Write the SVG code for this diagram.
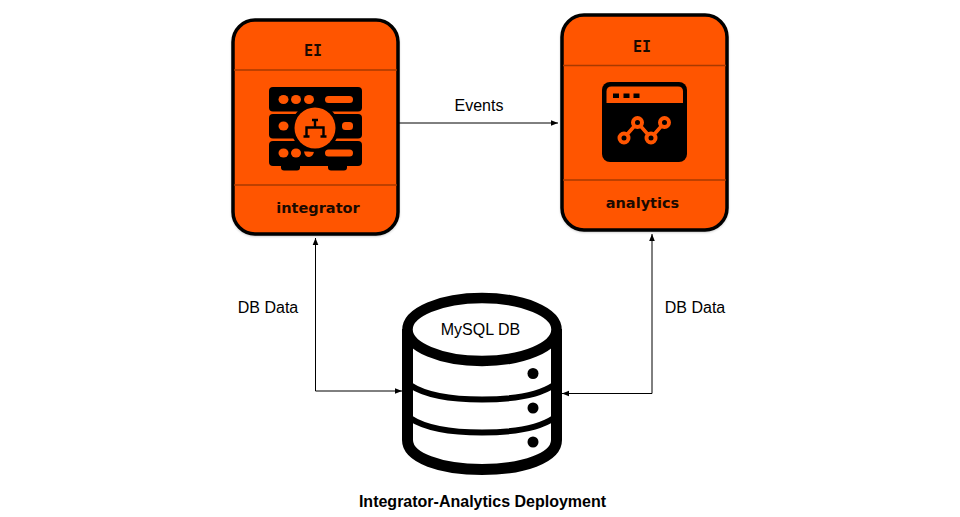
<svg xmlns="http://www.w3.org/2000/svg" width="960" height="517" viewBox="0 0 960 517">
<style>
.card{fill:#ff5500;stroke:#000;stroke-width:3.5}
.div{stroke:#a83a00;stroke-width:1.3;fill:none}
.ct{font-family:"DejaVu Sans",sans-serif;font-weight:700;fill:#1a0a00;text-anchor:middle}
.ei{font-family:"DejaVu Sans Mono",monospace;font-weight:700;fill:#1a0a00;text-anchor:middle;font-size:15px}
.lb{font-family:"Liberation Sans",Arial,sans-serif;font-size:16px;fill:#000;text-anchor:middle}
.cn{fill:none;stroke:#000;stroke-width:1}
.o{fill:#ff5500}
.ol{fill:none;stroke:#ff5500;stroke-width:3.5}
.pt{fill:#000;stroke:#ff5500;stroke-width:4}
.band{fill:none;stroke:#000;stroke-linecap:butt}
</style>
<defs>
<marker id="ah" viewBox="0 0 8 8" refX="7" refY="4" markerWidth="8" markerHeight="8" markerUnits="userSpaceOnUse" orient="auto"><path d="M0 1.2L7 4L0 6.8Z" fill="#000"/></marker>
<marker id="as" viewBox="0 0 8 8" refX="7" refY="4" markerWidth="8" markerHeight="8" markerUnits="userSpaceOnUse" orient="auto-start-reverse"><path d="M0 1.2L7 4L0 6.8Z" fill="#000"/></marker>
<filter id="sh" x="-10%" y="-10%" width="120%" height="120%"><feGaussianBlur stdDeviation="1.5"/></filter>
</defs>
<g id="integrator">
<rect x="232" y="21" width="167" height="215" rx="23" fill="#000" opacity=".3" filter="url(#sh)"/>
<rect class="card" x="233" y="20" width="165" height="214" rx="22"/>
<path class="div" d="M234 70H397M234 185H397"/>
<text class="ei" x="313" y="56">EI</text>
<text class="ct" x="318" y="213" font-size="14.500">integrator</text>
<rect x="269" y="87" width="93" height="24.500" rx="4"/>
<rect x="269" y="114" width="93" height="24.500" rx="4"/>
<rect x="269" y="141" width="93" height="25" rx="4"/>
<rect x="281" y="162" width="19" height="8.500" rx="3"/>
<rect x="328" y="162" width="19" height="8.500" rx="3"/>
<ellipse class="o" cx="283.500" cy="99.500" rx="5" ry="4.500"/><ellipse class="o" cx="296" cy="99.500" rx="5" ry="4.500"/><ellipse class="o" cx="309" cy="99.500" rx="5" ry="4.500"/>
<rect class="o" x="325" y="96" width="28" height="7" rx="3.500"/>
<ellipse class="o" cx="283.500" cy="126" rx="5" ry="4.500"/>
<rect class="o" x="342" y="122" width="11" height="8" rx="3.500"/>
<ellipse class="o" cx="283.500" cy="153" rx="5" ry="4.500"/><ellipse class="o" cx="296" cy="153" rx="5" ry="4.500"/>
<path class="o" d="M304 151.500H314Q313 156.500 309 157Q305 157 304 151.500Z"/>
<rect class="o" x="325" y="149.500" width="28" height="7" rx="3.500"/>
<circle cx="315" cy="128" r="24"/>
<circle class="o" cx="315" cy="128" r="20.500"/>
<path d="M315 119.500V127M306.500 136V127.500H323.500V136M303.500 136.500H309.500M320.500 136.500H326.500M312 120H318" fill="none" stroke="#000" stroke-width="2.400"/>
</g>
<g id="analytics">
<rect x="561" y="16" width="167" height="216" rx="23" fill="#000" opacity=".3" filter="url(#sh)"/>
<rect class="card" x="562" y="15" width="165" height="215" rx="22"/>
<path class="div" d="M563 65.500H726M563 180H726"/>
<text class="ei" x="642" y="52">EI</text>
<text class="ct" x="642.500" y="208" font-size="14.500">analytics</text>
<rect x="602" y="82" width="85" height="80" rx="8"/>
<path class="o" d="M606.500 103V91.500Q606.500 86.500 611.500 86.500H678Q683 86.500 683 91.500V103Z"/>
<path d="M613 93.500h6v4.500h-6zM623.500 93.500h6v4.500h-6zM633.500 93.500h6v4.500h-6z"/>
<path class="ol" d="M624 138L637.500 122.500L651 138L664.500 122.500"/>
<circle class="pt" cx="624" cy="138" r="4.500"/>
<circle class="pt" cx="637.500" cy="122.500" r="4.500"/>
<circle class="pt" cx="651" cy="138" r="4.500"/>
<circle class="pt" cx="664.500" cy="122.500" r="4.500"/>
</g>
<g id="db">
<path d="M407.500 329V440C407.500 458 441 469.500 482 469.500C523 469.500 556.500 458 556.500 440V329" fill="#fff" stroke="#000" stroke-width="11"/>
<ellipse cx="482" cy="329.500" rx="74.500" ry="31.500" fill="#fff" stroke="#000" stroke-width="10.500"/>
<path class="band" stroke-width="6" d="M410 385C425 395 450 399.500 482 399.500C514 399.500 539 395 554 385"/>
<path class="band" stroke-width="6" d="M410 418C425 428 450 432.500 482 432.500C514 432.500 539 428 554 418"/>
<circle cx="533" cy="373.500" r="5.500"/><circle cx="533" cy="408" r="5.500"/><circle cx="533" cy="442" r="5.500"/>
<text class="lb" x="480.500" y="334.500">MySQL DB</text>
</g>
<g id="connectors">
<path class="cn" d="M398 123H558" marker-end="url(#ah)"/>
<path class="cn" d="M402 391H315.500V238" marker-start="url(#as)" marker-end="url(#ah)"/>
<path class="cn" d="M562 393.500H652V234" marker-start="url(#as)" marker-end="url(#ah)"/>
</g>
<text class="lb" x="479" y="110.500">Events</text>
<text class="lb" x="268" y="312.500">DB Data</text>
<text class="lb" x="695" y="312.500">DB Data</text>
<text class="lb" x="482.500" y="506.500" font-weight="700">Integrator-Analytics Deployment</text>
</svg>
